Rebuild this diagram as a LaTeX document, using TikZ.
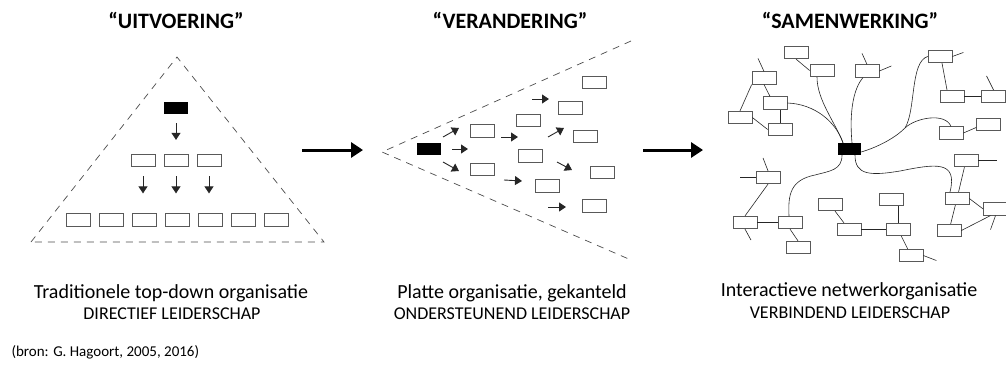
\documentclass[tikz,border=0pt]{standalone}
\usepackage{fontspec}
\setmainfont{Carlito}
\usetikzlibrary{arrows.meta}

\tikzset{
  box/.style={draw=black!65,line width=0.7pt,minimum width=24pt,minimum height=12.5pt,inner sep=0pt},
  boss/.style={fill=black,minimum width=24pt,minimum height=12pt,inner sep=0pt},
  link/.style={draw=black!85,line width=0.6pt},
  flow/.style={->,draw=black!85,line width=0.9pt},
  dashframe/.style={draw=black!70,line width=0.7pt,dash pattern=on 7pt off 6pt},
  bigarrow/.style={line width=3pt,-{Triangle[length=12pt,width=15pt]}},
  ttl/.style={font=\bfseries\fontsize{22}{26}\selectfont},
  sub/.style={font=\fontsize{20}{24}\selectfont},
  caps/.style={font=\fontsize{18}{21}\selectfont},
  src/.style={font=\fontsize{15}{18}\selectfont}
}

\begin{document}
\begin{tikzpicture}[x=1pt,y=-1pt,>={Triangle[length=7pt,width=9pt]}]
\useasboundingbox (0,0) rectangle (1006,367);

\node[ttl] (t1) at (176,20) {“UITVOERING”};
\node[ttl] (t2) at (510,20) {“VERANDERING”};
\node[ttl] (t3) at (850,20) {“SAMENWERKING”};

% uitvoering
\coordinate (ptop) at (177,57);
\coordinate (pleft) at (31,242);
\coordinate (pright) at (324,242);
\draw[dashframe] (pleft) -- (ptop) -- (pright) -- cycle;
\node[boss] (u0) at (176,108) {};
\foreach \i/\x in {1/143,2/176,3/209}
  \node[box] (u\i) at (\x,160.5) {};
\foreach \i in {1,...,7}
  \node[box] (v\i) at ({78+33*(\i-1)},220) {};
\draw[flow,shorten <=9pt,shorten >=14pt] (u0) -- (u2);
\foreach \i/\j in {1/3,2/4,3/5}
  \draw[flow,shorten <=9pt,shorten >=20pt] (u\i.south) -- (u\i.south |- v\j.north);

\coordinate (g1) at (302,150);
\coordinate (g2) at (363,150);
\draw[bigarrow] (g1) -- (g2);

% verandering
\coordinate (vtip) at (382,152);
\coordinate (vup) at (631,41);
\coordinate (vdown) at (631,260);
\draw[dashframe] (vup) -- (vtip) -- (vdown);
\node[boss] (w0) at (428.5,149) {};
\foreach \i/\x/\y in {1/482/131,2/482/169.5,3/528/120.5,4/530/156,5/547/186,
                      6/570/108,7/594/82.5,8/585/136.5,9/602/172.5,10/594/206}
  \node[box] (w\i) at (\x,\y) {};
\foreach \i/\p/\q in {1/{443,137}/{459,128},2/{452,149}/{468,149},3/{443,162}/{459,171},
                      4/{501,137}/{518,137},5/{532,99}/{549,99},6/{548,137}/{564,128},
                      7/{504,180}/{522,181},8/{557,162}/{572,170},9/{548,207}/{566,207}}
{
  \coordinate (s\i) at (\p);
  \coordinate (e\i) at (\q);
  \draw[flow] (s\i) -- (e\i);
}

\coordinate (g3) at (643,150);
\coordinate (g4) at (703,150);
\draw[bigarrow] (g3) -- (g4);

% samenwerking
\node[boss,minimum width=23pt] (hub) at (849.5,149) {};
\foreach \i/\x/\y in {1/796/52.5,2/822/70.5,3/867/71,4/940/56.5,5/952/96.5,
                      6/993.5/96.5,7/951/133,8/988.5/124.5,9/764/78,10/775/103,
                      11/740/117.5,12/780/129.5,13/768/177.5,14/745/222.5,15/790/222.5,
                      16/798/247.5,17/830/204.5,18/849/229.5,19/891/199.5,20/898/229.5,
                      21/911/255.5,22/966/160.5,23/957/198.5,24/995.5/209,25/949/230.5}
  \node[box] (n\i) at (\x,\y) {};

\draw[link] (n10.east) .. controls (815,104) and (836,122) .. ([xshift=-6.5pt]hub.north);
\draw[link] ([xshift=-5pt]n2.south) .. controls (817,100) and (835,122) .. ([xshift=-6.5pt]hub.north);
\draw[link] ([xshift=2.5pt]hub.north) .. controls (849,110) and (854,88) .. ([xshift=-4pt]n3.south);
\coordinate (fork) at (905,128);
\draw[link] ([yshift=-3pt]hub.east) .. controls (878,147) and (895,138) .. (fork)
  .. controls (916,110) and (910,62) .. (n4.west);
\draw[link] (fork) .. controls (915,118) and (945,112) .. (n7.north);
\draw[link] ([xshift=5.5pt]hub.south) .. controls (855,175) and (870,176) .. (900,171)
  .. controls (935,164) and (958,160) .. ([xshift=-7pt]n23.north);
\draw[link] ([xshift=-7.5pt]hub.south) .. controls (842,170) and (830,171) .. (815,175)
  .. controls (790,180) and (788,195) .. ([xshift=-1pt]n15.north);

\draw[link] (n1.south) -- (n2.west);
\draw[link] (n9.south west) -- (n11.north);
\draw[link] (n9.south) -- ([xshift=-5pt]n10.north);
\draw[link] (n12.north) -- (n12.north |- n10.south);
\draw[link] (n11.east) -- (n12.west);
\draw[link] ([xshift=2pt]n4.south) -- ([xshift=-5pt]n5.north);
\draw[link] (n5) -- (n6);
\draw[link] (n7.east) -- ([yshift=-3pt]n8.west);
\draw[link] (n13.south) -- (n14.north);
\draw[link] (n14) -- (n15);
\draw[link] (n15.south) -- (n16.north);
\draw[link] (n17) -- (n18);
\draw[link] (n18) -- (n20);
\draw[link] (n20.north) -- (n20.north |- n19.south);
\draw[link] (n20) -- (n21);
\draw[link] (n22) -- (n23);
\draw[link] (n23.east) -- (n24.west);
\draw[link] (n23) -- (n25);
\draw[link] (n25.east) -- ([xshift=-5pt]n24.south);
\foreach \i/\a/\dx/\dy in {9/north/-6/-13,3/north/-5/-11,3/east/12/-5,4/east/11/-4,
                           6/north/-7/-14,13/north/-5/-13,13/west/-16/0,14/south/6/11,
                           21/east/13/5,22/east/19/0,24/south/-5/14}
  \draw[link] (n\i.\a) -- ++(\dx,\dy);

\node[sub] (c1) at (171,293) {Traditionele top-down organisatie};
\node[caps] (d1) at (172,314) {DIRECTIEF LEIDERSCHAP};
\node[sub] (c2) at (512,293) {Platte organisatie, gekanteld};
\node[caps] (d2) at (512,314) {ONDERSTEUNEND LEIDERSCHAP};
\node[sub] (c3) at (849,291) {Interactieve netwerkorganisatie};
\node[caps] (d3) at (850,313) {VERBINDEND LEIDERSCHAP};
\node[src,anchor=west] (bron) at (8,352) {(bron: G. Hagoort, 2005, 2016)};
\end{tikzpicture}
\end{document}
